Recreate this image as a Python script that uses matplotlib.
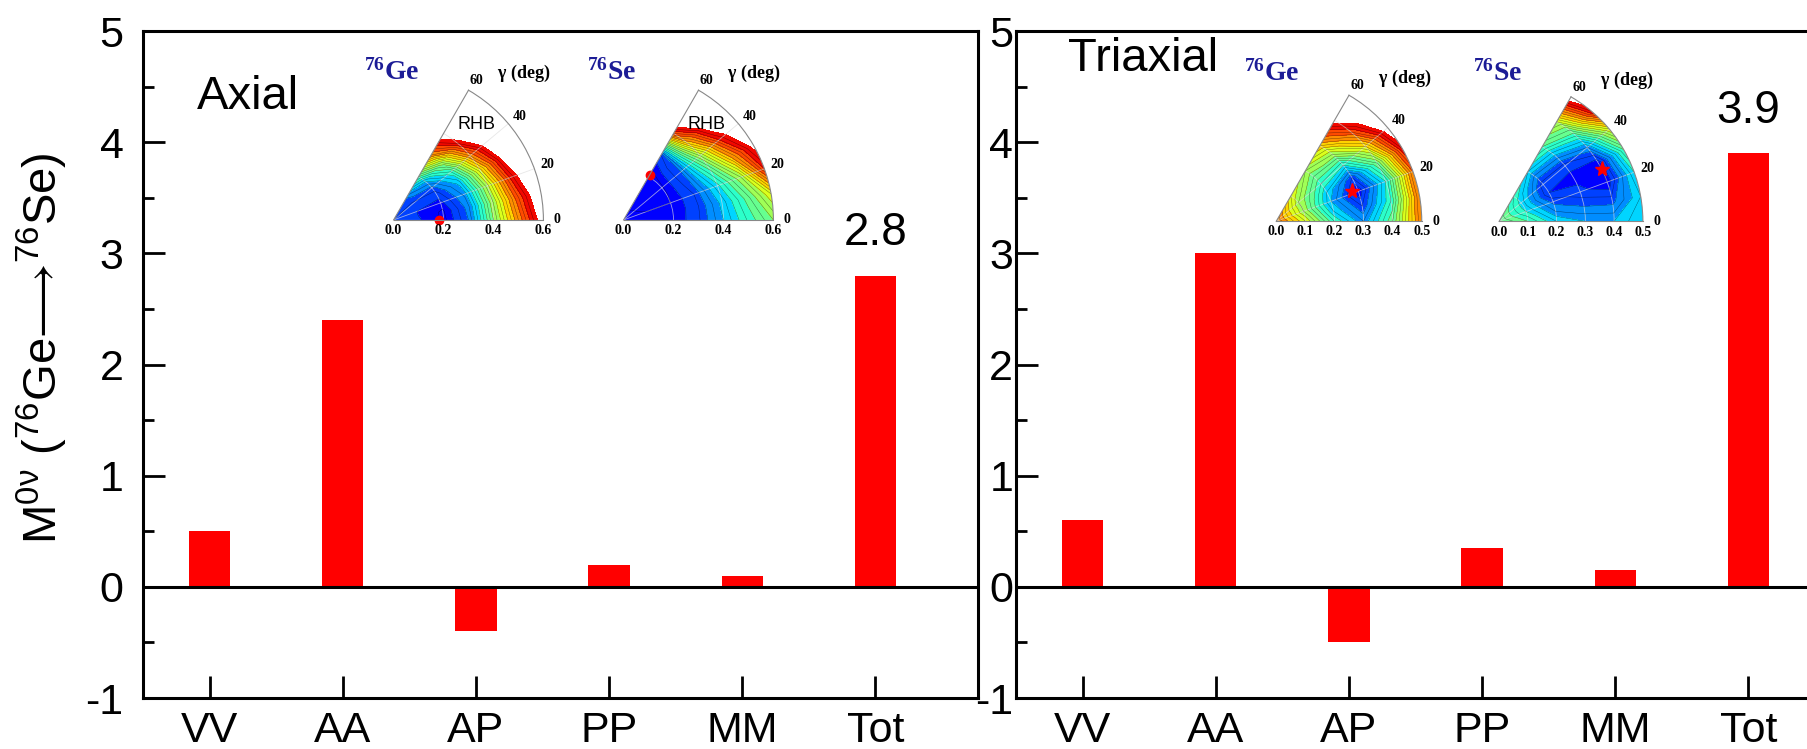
import numpy as np
import matplotlib.pyplot as plt

plt.rcParams['font.family'] = ['Liberation Sans', 'DejaVu Sans']
plt.rcParams['mathtext.fontset'] = 'custom'
plt.rcParams['mathtext.rm'] = 'Liberation Sans'
plt.rcParams['mathtext.bf'] = 'Liberation Serif:bold'
plt.rcParams['mathtext.fallback'] = 'stixsans'
plt.rcParams['axes.unicode_minus'] = False

# NME contributions
channels = ['VV', 'AA', 'AP', 'PP', 'MM', 'Tot']
axial = [0.5, 2.4, -0.4, 0.2, 0.1, 2.8]
triaxial = [0.6, 3.0, -0.5, 0.35, 0.15, 3.9]

# potential energy surfaces, rows = gamma, cols = beta (contour band units, >12 left white)
gammas = [0, 10, 20, 30, 40, 50, 60]
beta_axial = [0.0, 0.1, 0.2, 0.3, 0.4, 0.5, 0.6]
beta_tri = [0.0, 0.1, 0.2, 0.3, 0.4, 0.5]

ge_axial = [[1.5, 1.1, 0.3, 2.0, 6.0, 9.5, 12.8],
            [1.5, 1.0, 0.4, 2.2, 6.3, 10.2, 13.5],
            [1.5, 1.0, 0.8, 2.6, 6.8, 11.2, 14.5],
            [1.5, 1.2, 1.2, 3.2, 7.8, 12.3, 15.0],
            [1.5, 1.4, 1.8, 4.5, 9.5, 13.5, 16.0],
            [1.5, 1.7, 3.0, 6.5, 11.5, 15.0, 16.5],
            [1.5, 2.0, 5.0, 9.5, 13.0, 16.0, 17.0]]
se_axial = [[0.7, 0.6, 0.6, 1.4, 3.0, 4.6, 6.0],
            [0.7, 0.55, 0.55, 1.4, 3.2, 5.2, 7.5],
            [0.7, 0.5, 0.5, 1.5, 3.8, 6.5, 11.0],
            [0.7, 0.4, 0.45, 1.8, 5.0, 9.0, 12.5],
            [0.7, 0.35, 0.4, 2.0, 6.5, 11.0, 14.0],
            [0.7, 0.3, 0.3, 2.0, 8.5, 13.0, 16.0],
            [0.7, 0.2, 0.1, 1.5, 10.5, 16.0, 18.0]]
ge_tri = [[10.0, 7.5, 4.5, 2.5, 5.5, 10.0],
          [10.0, 7.0, 3.5, 1.5, 4.5, 10.0],
          [10.0, 6.5, 3.0, 0.5, 4.0, 10.0],
          [10.0, 6.5, 3.5, 1.5, 5.5, 11.5],
          [10.0, 6.5, 4.5, 4.0, 8.0, 13.0],
          [10.0, 7.0, 5.5, 6.5, 10.5, 14.5],
          [10.0, 7.5, 6.5, 8.5, 12.5, 15.0]]
se_tri = [[6.0, 5.0, 3.5, 3.0, 3.0, 4.0],
          [6.0, 4.5, 2.5, 2.0, 1.8, 3.5],
          [6.0, 4.0, 1.8, 1.2, 0.5, 4.0],
          [6.0, 3.8, 1.0, 0.8, 0.5, 5.0],
          [6.0, 3.8, 1.2, 1.2, 2.5, 7.5],
          [6.0, 4.0, 2.2, 3.0, 5.0, 11.5],
          [6.0, 4.5, 3.5, 5.0, 7.0, 13.0]]

# minima (beta, gamma)
min_ge_axial = (0.18, 0)
min_se_axial = (0.21, 60)
min_ge_tri = (0.28, 22)
min_se_tri = (0.40, 27)

W, H = 1807, 749
fig = plt.figure(figsize=(W / 100, H / 100), dpi=100)

band_colors = plt.cm.jet(np.linspace(0.12, 0.9, 12))


def bar_panel(rect, values, title, title_xy, top_label, ypad):
    ax = fig.add_axes(rect)
    x = np.arange(len(channels))
    ax.bar(x, values, width=0.31, color='#ff0000')
    ax.axhline(0, color='k', lw=2.2)
    ax.set_xlim(-0.5, 5.77)
    ax.set_ylim(-1, 5)
    ax.set_xticks(x)
    ax.set_xticklabels(channels)
    ax.set_yticks(range(-1, 6))
    ax.set_yticks(np.arange(-0.5, 5, 1), minor=True)
    ax.tick_params(direction='in', length=16, width=2, labelsize=31)
    ax.tick_params(axis='x', pad=9)
    ax.tick_params(axis='y', pad=ypad)
    ax.tick_params(axis='y', which='minor', direction='in', length=8, width=2)
    for s in ax.spines.values():
        s.set_linewidth(2.2)
    ax.text(title_xy[0], title_xy[1], title, transform=ax.transAxes,
            fontsize=34, ha='center', va='center')
    ax.text(x[-1], values[-1] + 0.38, top_label, fontsize=33, ha='center', va='center')
    return ax


def pes_inset(origin, radius, betas, grid, nucleus, label_dx, marker, ms, rhb, blabels):
    x0, y0 = origin
    h = radius * np.sin(np.radians(60))
    ax = fig.add_axes([x0 / W, (H - y0) / H, radius / W, h / H], projection='polar')
    rmax = betas[-1]
    T, B = np.meshgrid(np.radians(gammas), betas)
    E = np.array(grid).T
    ax.contourf(T, B, E, levels=np.arange(0, 12.01, 1), colors=band_colors)
    ax.contour(T, B, E, levels=np.arange(0.5, 12, 0.5), colors='k', linewidths=0.3, alpha=0.6)
    ax.set_thetamin(0)
    ax.set_thetamax(60)
    ax.set_rlim(0, rmax)
    ax.set_xticks(np.radians([20, 40]))
    ax.set_xticklabels([])
    ax.set_yticks([0.2, 0.4] if rmax > 0.55 else [0.1, 0.2, 0.3, 0.4])
    ax.set_yticklabels([])
    ax.grid(color='#dddddd', lw=0.6, alpha=0.7)
    for s in ax.spines.values():
        s.set_color('#888888')
        s.set_linewidth(0.8)
    ax.plot(np.radians(marker[1]), marker[0], marker[2], color='red', ms=ms, clip_on=False)
    serif = dict(family='Liberation Serif', fontweight='bold', fontsize=10, annotation_clip=False)
    for b in blabels:
        ax.annotate('%.1f' % b, xy=(0, b), xytext=(0, -3), textcoords='offset points',
                    ha='center', va='top', **serif)
    for g in [0, 20, 40, 60]:
        t = np.radians(g)
        ax.annotate(str(g), xy=(t, rmax), xytext=(8 * np.cos(t) + 2, 8 * np.sin(t)),
                    textcoords='offset points', ha='center', va='center', **serif)
    ax.annotate(r'$\mathbf{\gamma}$ (deg)', xy=(np.radians(60), rmax), xytext=(40, 12),
                textcoords='offset points', ha='center', va='center',
                family='Liberation Serif', fontweight='bold', fontsize=13, annotation_clip=False)
    if rhb:
        ax.text(np.radians(49), 0.506, 'RHB', ha='center', va='center', fontsize=13)
    fig.text((x0 + label_dx) / W, (H - y0 + 158) / H, r'$\mathbf{^{76}%s}$' % nucleus,
             color='#1c1c96', fontsize=20, ha='center', va='center')
    return ax


left = bar_panel([143 / W, 51 / H, 835 / W, 667 / H], axial, 'Axial', (0.126, 0.901), '2.8', 14)
left.set_ylabel('M$^{\\mathrm{0ν}}$ ($^{\\mathrm{76}}$Ge$\\mathrm{⟶}$$^{\\mathrm{76}}$Se)', fontsize=34)
left.yaxis.set_label_coords(-0.087, 0.525)
right = bar_panel([1016 / W, 51 / H, 835 / W, 667 / H], triaxial, 'Triaxial', (0.152, 0.958), '3.9', 2)

pes_inset((382, 230), 173, beta_axial, ge_axial, 'Ge', 10, (*min_ge_axial, 'o'), 6, True,
          [0.0, 0.2, 0.4, 0.6])
pes_inset((612, 230), 173, beta_axial, se_axial, 'Se', 0, (*min_se_axial, 'o'), 6, True,
          [0.0, 0.2, 0.4, 0.6])
pes_inset((1265, 231), 168, beta_tri, ge_tri, 'Ge', 7, (*min_ge_tri, '*'), 11, False,
          [0.0, 0.1, 0.2, 0.3, 0.4, 0.5])
pes_inset((1488, 231), 166, beta_tri, se_tri, 'Se', 10, (*min_se_tri, '*'), 11, False,
          [0.0, 0.1, 0.2, 0.3, 0.4, 0.5])

fig.savefig('out.png', dpi=100)
